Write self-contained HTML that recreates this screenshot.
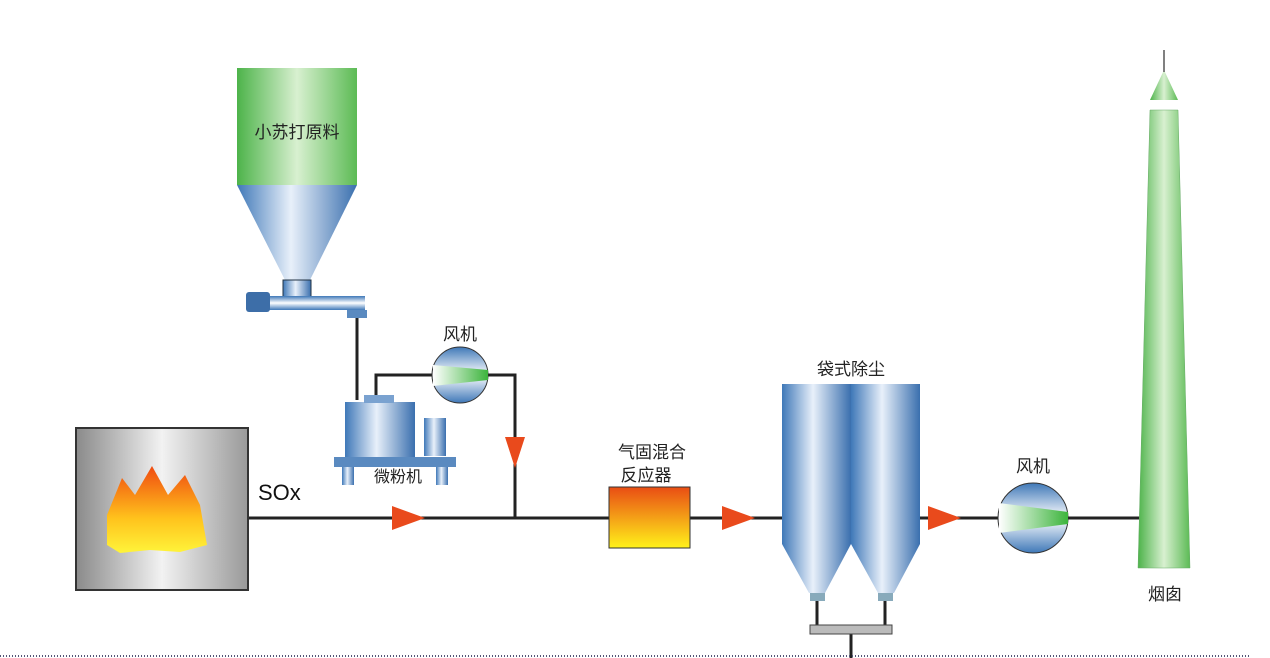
<!DOCTYPE html>
<html><head><meta charset="utf-8"><style>
body{margin:0;background:#fff}
svg{display:block;font-family:"Liberation Sans","Noto Sans CJK SC",sans-serif}
</style></head><body>
<svg width="1270" height="658" viewBox="0 0 1270 658">
<defs>
<linearGradient id="gh" x1="0" x2="1"><stop offset="0" stop-color="#3f78b8"/><stop offset="0.45" stop-color="#e8f0fa"/><stop offset="1" stop-color="#3a6fae"/></linearGradient>
<linearGradient id="gg" x1="0" x2="1"><stop offset="0" stop-color="#4db34a"/><stop offset="0.5" stop-color="#d8f0d0"/><stop offset="1" stop-color="#5cbb55"/></linearGradient>
<linearGradient id="gray" x1="0" x2="1"><stop offset="0" stop-color="#8a8a8a"/><stop offset="0.5" stop-color="#f2f2f2"/><stop offset="1" stop-color="#999"/></linearGradient>
<linearGradient id="ry" x1="0" y1="0" x2="0" y2="1"><stop offset="0" stop-color="#e94d14"/><stop offset="1" stop-color="#fff21a"/></linearGradient>
<linearGradient id="fl" x1="0" y1="0" x2="0" y2="1"><stop offset="0" stop-color="#f04a10"/><stop offset="0.6" stop-color="#ffc21c"/><stop offset="1" stop-color="#fff43a"/></linearGradient>
<linearGradient id="fanb" x1="0" y1="0" x2="0" y2="1"><stop offset="0" stop-color="#3f78b8"/><stop offset="0.5" stop-color="#fff"/><stop offset="1" stop-color="#3f78b8"/></linearGradient>
<linearGradient id="fang" x1="0" x2="1"><stop offset="0" stop-color="#fff"/><stop offset="1" stop-color="#3cb43c"/></linearGradient>
</defs>
<g stroke="#222" stroke-width="3" fill="none">
<line x1="248" y1="518" x2="1140" y2="518"/>
<polyline points="357,318 357,400"/>
<polyline points="432,375 376,375 376,400"/>
<polyline points="488,375 515,375 515,518"/>
<line x1="817" y1="600" x2="817" y2="626"/><line x1="885" y1="600" x2="885" y2="626"/>
<line x1="851" y1="633" x2="851" y2="658"/>
</g>
<rect x="237" y="68" width="120" height="117" fill="url(#gg)"/>
<polygon points="237,185 357,185 310,280 285,280" fill="url(#gh)"/>
<rect x="283" y="280" width="28" height="18" fill="url(#gh)" stroke="#234" stroke-width="1"/>
<rect x="265" y="296" width="100" height="14" fill="url(#fanb)"/>
<rect x="246" y="292" width="24" height="20" rx="3" fill="#3d6ea8"/>
<rect x="347" y="310" width="20" height="8" fill="#5a8ac0"/>
<rect x="345" y="402" width="70" height="55" fill="url(#gh)"/>
<rect x="364" y="395" width="30" height="8" fill="#7aa2d0"/>
<rect x="334" y="457" width="122" height="10" fill="#5a8ac0"/>
<rect x="342" y="467" width="12" height="18" fill="url(#gh)"/><rect x="436" y="467" width="12" height="18" fill="url(#gh)"/>
<rect x="424" y="418" width="22" height="38" fill="url(#gh)"/>
<text x="398" y="482" font-size="16" text-anchor="middle" fill="#222">微粉机</text>
<circle cx="460" cy="375" r="28" fill="url(#fanb)" stroke="#333"/>
<polygon points="433,365 488,370 488,380 433,386" fill="url(#fang)"/>
<text x="460" y="340" font-size="17" text-anchor="middle" fill="#222">风机</text>
<polygon points="505,437 525,437 515,468" fill="#e94a1c"/>
<rect x="76" y="428" width="172" height="162" fill="url(#gray)" stroke="#333" stroke-width="2"/>
<path d="M107,515 L122,478 L135,495 L152,466 L168,495 L185,475 L200,505 L207,545 L180,552 L150,550 L120,553 L107,545Z" fill="url(#fl)"/>
<text x="258" y="500" font-size="22" fill="#111">SOx</text>
<polygon points="392,506 392,530 425,518" fill="#e94a1c"/>
<rect x="609" y="487" width="81" height="61" fill="url(#ry)" stroke="#333"/>
<text x="652" y="458" font-size="17" text-anchor="middle" fill="#222">气固混合</text>
<text x="646" y="481" font-size="17" text-anchor="middle" fill="#222">反应器</text>
<polygon points="722,506 722,530 755,518" fill="#e94a1c"/>
<rect x="782" y="384" width="69" height="160" fill="url(#gh)"/>
<rect x="851" y="384" width="69" height="160" fill="url(#gh)"/>
<polygon points="782,544 851,544 825,593 809,593" fill="url(#gh)"/>
<polygon points="851,544 920,544 894,593 878,593" fill="url(#gh)"/>
<rect x="810" y="593" width="15" height="8" fill="#8ab"/><rect x="878" y="593" width="15" height="8" fill="#8ab"/>
<rect x="810" y="625" width="82" height="9" fill="#bbb" stroke="#444"/>
<text x="851" y="375" font-size="17" text-anchor="middle" fill="#222">袋式除尘</text>
<polygon points="928,506 928,530 961,518" fill="#e94a1c"/>
<circle cx="1033" cy="518" r="35" fill="url(#fanb)" stroke="#333"/>
<polygon points="999,503 1068,512 1068,524 999,533" fill="url(#fang)"/>
<text x="1033" y="472" font-size="17" text-anchor="middle" fill="#222">风机</text>
<polygon points="1150,110 1178,110 1190,568 1138,568" fill="url(#gg)" stroke="#6a6" stroke-width="0.5"/>
<polygon points="1164,70 1178,100 1150,100" fill="url(#gg)"/>
<line x1="1164" y1="50" x2="1164" y2="72" stroke="#555" stroke-width="1.5"/>
<text x="1165" y="600" font-size="17" text-anchor="middle" fill="#222">烟囱</text>
<text x="297" y="138" font-size="17" text-anchor="middle" fill="#222">小苏打原料</text>
<line x1="0" y1="656" x2="1250" y2="656" stroke="#557" stroke-width="2" stroke-dasharray="1,2"/>
</svg>
</body></html>
